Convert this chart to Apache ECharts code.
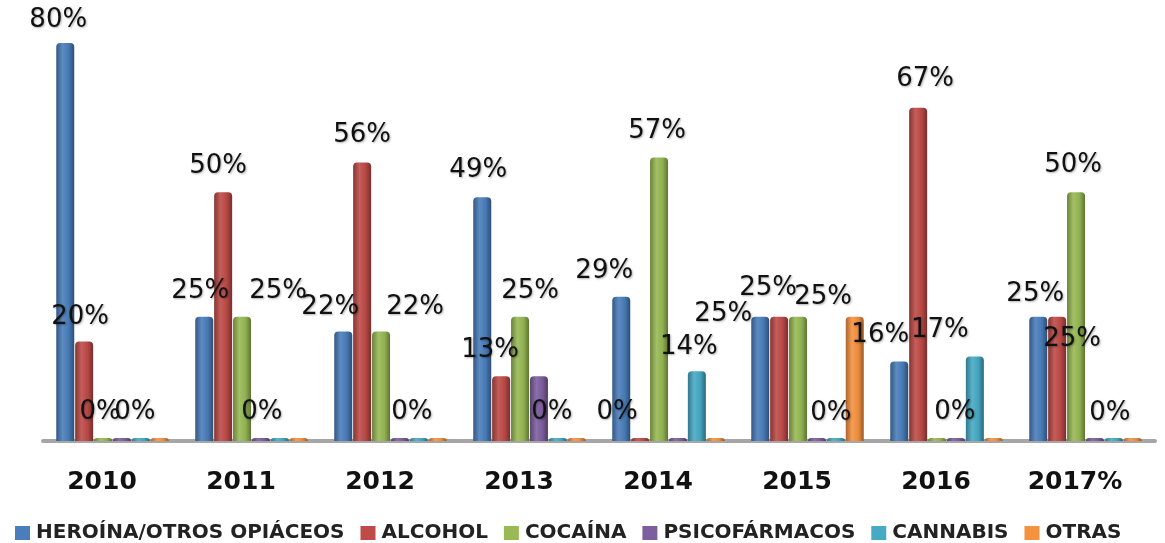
<!DOCTYPE html>
<html>
<head>
<meta charset="utf-8">
<script src="https://cdn.jsdelivr.net/npm/echarts@6/dist/echarts.min.js"></script>
<style>
  html, body { margin: 0; padding: 0; background: #fff; }
  #main { width: 1165px; height: 543px; }
</style>
</head>
<body>
<div id="main"></div>
<script>
// datos
var years = ['2010', '2011', '2012', '2013', '2014', '2015', '2016', '2017%'];
var seriesNames = ['HEROÍNA/OTROS OPIÁCEOS', 'ALCOHOL', 'COCAÍNA', 'PSICOFÁRMACOS', 'CANNABIS', 'OTRAS'];
var heroina      = [80, 25, 22, 49, 29, 25, 16, 25];
var alcohol      = [20, 50, 56, 13, 0, 25, 67, 25];
var cocaina      = [0, 25, 22, 25, 57, 25, 0, 50];
var psicofarmacos = [0, 0, 0, 13, 0, 0, 0, 0];
var cannabis     = [0, 0, 0, 0, 14, 0, 17, 0];
var otras        = [0, 0, 0, 0, 0, 25, 0, 0];

var values = [heroina, alcohol, cocaina, psicofarmacos, cannabis, otras];
var colors = ['#4A7EBB', '#BE4B48', '#98B954', '#7D5FA0', '#46AAC5', '#F59240'];

// qué etiquetas se ven y cuánto se desplazan (como en el original)
var labelShift = [
  [[-7,3],[-4,1],[-13,2],[-4,-1],[-17,1],[-37,24],[-19,0],[-3,4]],
  [[-4,2],[-5,0],[0,-1],[-11,0],[-23,0],[-11,-2],[7,-2],[15,49]],
  [[-3,0],[36,1],[34,2],[10,1],[-2,0],[25,7],null,[-3,-1]],
  [null,[1,0],null,null,null,null,[-1,0],null],
  [[-6,0],null,[-7,0],[-6,0],[-8,2],[-5,1],[-35,0],[-4,1]],
  [null,null,null,null,null,null,null,null]
];

function shade(hex, k) {
  var n = parseInt(hex.slice(1), 16);
  var r = (n >> 16) & 255, g = (n >> 8) & 255, b = n & 255;
  function f(c) { return Math.max(0, Math.min(255, Math.round(k > 0 ? c + (255 - c) * k : c * (1 + k)))); }
  return 'rgb(' + f(r) + ',' + f(g) + ',' + f(b) + ')';
}

function cylinder(hex) {
  return new echarts.graphic.LinearGradient(0, 0, 1, 0, [
    { offset: 0, color: shade(hex, -0.3) },
    { offset: 0.35, color: shade(hex, 0.1) },
    { offset: 0.7, color: shade(hex, -0.05) },
    { offset: 1, color: shade(hex, -0.38) }
  ]);
}

var labelFont = {
  fontFamily: 'DejaVu Sans',
  fontSize: 26,
  color: '#111',
  lineHeight: 26,
  textShadowColor: 'rgba(0,0,0,0.3)',
  textShadowBlur: 2,
  textShadowOffsetX: 1,
  textShadowOffsetY: 1
};

var series = values.map(function (vals, i) {
  return {
    name: seriesNames[i],
    type: 'bar',
    barWidth: 18,
    barGap: '5%',
    barMinHeight: 3,
    itemStyle: { color: cylinder(colors[i]), borderRadius: [4, 4, 0, 0] },
    data: vals.map(function (v, j) {
      var s = labelShift[i][j];
      return {
        value: v,
        label: s ? Object.assign({
          show: true,
          position: 'top',
          distance: 13,
          offset: s,
          formatter: '{c}%'
        }, labelFont) : { show: false }
      };
    })
  };
});

var chart = echarts.init(document.getElementById('main'));
chart.setOption({
  animation: false,
  color: colors,
  grid: { left: 43, right: 10, top: 43, bottom: 102 },
  legend: {
    data: seriesNames.map(function (n, i) { return { name: n, itemStyle: { color: colors[i] } }; }),
    left: 10,
    top: 518,
    icon: 'rect',
    itemWidth: 15,
    itemHeight: 14,
    itemGap: 16,
    textStyle: { fontFamily: 'DejaVu Sans', fontWeight: 'bold', fontSize: 20, color: '#222', padding: [0, 0, 0, 1] }
  },
  xAxis: {
    type: 'category',
    data: years,
    axisLine: { lineStyle: { color: '#a6a6a6', width: 4 } },
    axisTick: { length: 8, lineStyle: { color: '#8c8c8c', width: 3 } },
    axisLabel: {
      margin: 29,
      padding: [0, 21, 0, 0],
      fontFamily: 'DejaVu Sans',
      fontWeight: 'bold',
      fontSize: 25,
      color: '#111'
    }
  },
  yAxis: {
    type: 'value',
    min: 0,
    max: 80,
    show: false,
    splitLine: { show: false }
  },
  series: series
});
</script>
</body>
</html>
